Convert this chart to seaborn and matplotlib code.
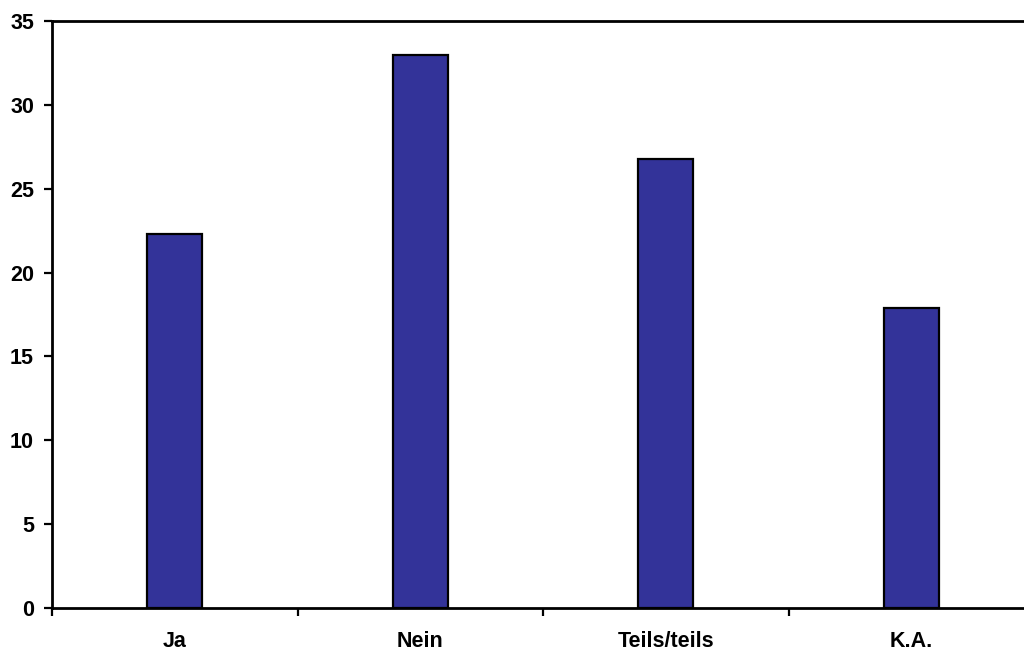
import matplotlib
matplotlib.use("Agg")
import matplotlib.pyplot as plt
import seaborn as sns
import pandas as pd
from matplotlib.ticker import FixedLocator

categories = ["Ja", "Nein", "Teils/teils", "K.A."]
values = [22.3, 33.0, 26.8, 17.9]
y_ticks = [0, 5, 10, 15, 20, 25, 30, 35]

sns.set_theme(style="white")
plt.rcParams["font.family"] = ["Liberation Sans", "DejaVu Sans"]

df = pd.DataFrame({"Antwort": categories, "Wert": values})

fig = plt.figure(figsize=(10.24, 6.52), dpi=100)
ax = fig.add_axes([52 / 1024, 1 - 608 / 652, 982 / 1024, 587 / 652])

sns.barplot(data=df, x="Antwort", y="Wert", color="#333399", saturation=1,
            width=0.224, edgecolor="black", linewidth=1.6, ax=ax)

ax.set_xlim(-0.5, 3.5)
ax.set_ylim(0, 35)
ax.set_yticks(y_ticks)
ax.set_xlabel("")
ax.set_ylabel("")

for side in ["left", "bottom", "top", "right"]:
    ax.spines[side].set_visible(True)
    ax.spines[side].set_color("black")
    ax.spines[side].set_linewidth(2.0)

# category boundary ticks on the x axis, labels centred between them
ax.xaxis.set_minor_locator(FixedLocator([-0.5, 0.5, 1.5, 2.5, 3.5]))
ax.tick_params(axis="x", which="major", length=0, pad=16.5)
ax.tick_params(axis="x", which="minor", bottom=True, length=6, width=1.6,
               direction="out", color="black")
ax.tick_params(axis="y", which="major", left=True, length=6, width=1.6,
               direction="out", color="black", pad=7)

for lab in ax.get_xticklabels() + ax.get_yticklabels():
    lab.set_fontweight("bold")
    lab.set_fontsize(15.5)
    lab.set_color("black")

ax.grid(False)
fig.savefig("out.png", dpi=100)
